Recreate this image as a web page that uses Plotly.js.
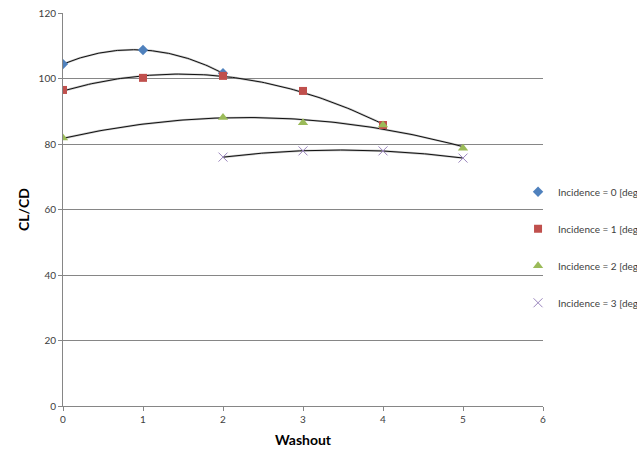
<!DOCTYPE html>
<html>
<head>
<meta charset="utf-8">
<script src="https://cdn.plot.ly/plotly-3.0.1.min.js"></script>
<style>
  html, body { margin: 0; padding: 0; background: #fff; overflow: hidden; }
  #chart { width: 637px; height: 451px; }
</style>
</head>
<body>
<div id="chart"></div>
<script>
// CL/CD against washout, one series per incidence angle
const seriesNames = [
  "Incidence = 0 [deg]",
  "Incidence = 1 [deg]",
  "Incidence = 2 [deg]",
  "Incidence = 3 [deg]"
];
const washout0 = [0, 1, 2];
const clcd0 = [104.4, 108.7, 101.6];
const washout1 = [0, 1, 2, 3, 4];
const clcd1 = [96.5, 100.2, 100.8, 96.2, 85.8];
const washout2 = [0, 2, 3, 4, 5];
const clcd2 = [81.8, 88.1, 86.5, 85.8, 78.7];
const washout3 = [2, 3, 4, 5];
const clcd3 = [76.0, 77.9, 77.9, 75.7];

const xTicks = [0, 1, 2, 3, 4, 5, 6];
const yTicks = [0, 20, 40, 60, 80, 100, 120];

const markerStyles = [
  { symbol: "diamond", size: 8, color: "#4F81BD" },
  { symbol: "square", size: 8, color: "#C0504D" },
  { symbol: "triangle-up", size: 9, color: "#9BBB59" },
  { symbol: "x-thin-open", size: 9, color: "#9B86BE", line: { color: "#9B86BE", width: 1 } }
];

// least-squares quadratic fit (2nd order polynomial trendline)
function quadFit(xs, ys) {
  const s = [0, 0, 0, 0, 0], t = [0, 0, 0];
  xs.forEach((x, i) => {
    let p = 1;
    for (let k = 0; k <= 4; k++) { s[k] += p; if (k <= 2) t[k] += p * ys[i]; p *= x; }
  });
  const A = [[s[0], s[1], s[2], t[0]], [s[1], s[2], s[3], t[1]], [s[2], s[3], s[4], t[2]]];
  for (let c = 0; c < 3; c++) {
    for (let r = c + 1; r < 3; r++) {
      const f = A[r][c] / A[c][c];
      for (let k = c; k < 4; k++) A[r][k] -= f * A[c][k];
    }
  }
  const coef = [0, 0, 0];
  for (let r = 2; r >= 0; r--) {
    let v = A[r][3];
    for (let k = r + 1; k < 3; k++) v -= A[r][k] * coef[k];
    coef[r] = v / A[r][r];
  }
  return coef;
}

function trendline(xs, ys) {
  const c = quadFit(xs, ys);
  const x0 = Math.min(...xs), x1 = Math.max(...xs);
  const tx = [], ty = [];
  for (let i = 0; i <= 100; i++) {
    const x = x0 + (x1 - x0) * i / 100;
    tx.push(x);
    ty.push(c[0] + c[1] * x + c[2] * x * x);
  }
  return { tx, ty };
}

const xs = [washout0, washout1, washout2, washout3];
const ys = [clcd0, clcd1, clcd2, clcd3];

const traces = [];
// trendlines first so the markers sit on top
xs.forEach((x, i) => {
  const t = trendline(x, ys[i]);
  traces.push({
    x: t.tx, y: t.ty, mode: "lines", type: "scatter",
    line: { color: "rgba(150,150,150,0.55)", width: 2.2 },
    showlegend: false, hoverinfo: "skip"
  });
  traces.push({
    x: t.tx, y: t.ty, mode: "lines", type: "scatter",
    line: { color: "#111", width: 1 },
    showlegend: false, hoverinfo: "skip"
  });
});
xs.forEach((x, i) => {
  const m = Object.assign({}, markerStyles[i]);
  traces.push({
    x: x, y: ys[i], mode: "markers", type: "scatter",
    name: seriesNames[i], legendgroup: "g" + i,
    marker: m
  });
});

const tickFont = { family: "Lato, 'Open Sans', sans-serif", size: 10, color: "#404040" };

const layout = {
  width: 637, height: 451,
  paper_bgcolor: "#fff", plot_bgcolor: "#fff",
  margin: { l: 63, r: 94, t: 13, b: 45, autoexpand: false },
  showlegend: true,
  legend: {
    x: 0.948, xanchor: "left", y: 0.582, yanchor: "top",
    font: { family: "Lato, 'Open Sans', sans-serif", size: 10, color: "#404040" },
    traceorder: "grouped", tracegroupgap: 18,
    itemwidth: 30, bgcolor: "rgba(0,0,0,0)"
  },
  xaxis: {
    range: [0, 6], tickvals: xTicks, ticktext: xTicks.map(String),
    showgrid: false, zeroline: false,
    showline: true, linecolor: "#868686", linewidth: 1,
    ticks: "outside", ticklen: 4, tickcolor: "#868686",
    tickfont: tickFont,
    title: { text: "<b>Washout</b>", font: { family: "Lato, 'Open Sans', sans-serif", size: 14, color: "#000" }, standoff: 11 }
  },
  yaxis: {
    range: [0, 120], tickvals: yTicks, ticktext: yTicks.map(String),
    showgrid: true, gridcolor: "#868686", gridwidth: 1, zeroline: false,
    showline: true, linecolor: "#868686", linewidth: 1,
    ticks: "outside", ticklen: 4, tickcolor: "#868686",
    tickfont: tickFont,
    title: { text: "<b>CL/CD</b>", font: { family: "Lato, 'Open Sans', sans-serif", size: 14, color: "#000" }, standoff: 5 }
  }
};

Plotly.newPlot("chart", traces, layout, { displayModeBar: false, staticPlot: true });
</script>
</body>
</html>
